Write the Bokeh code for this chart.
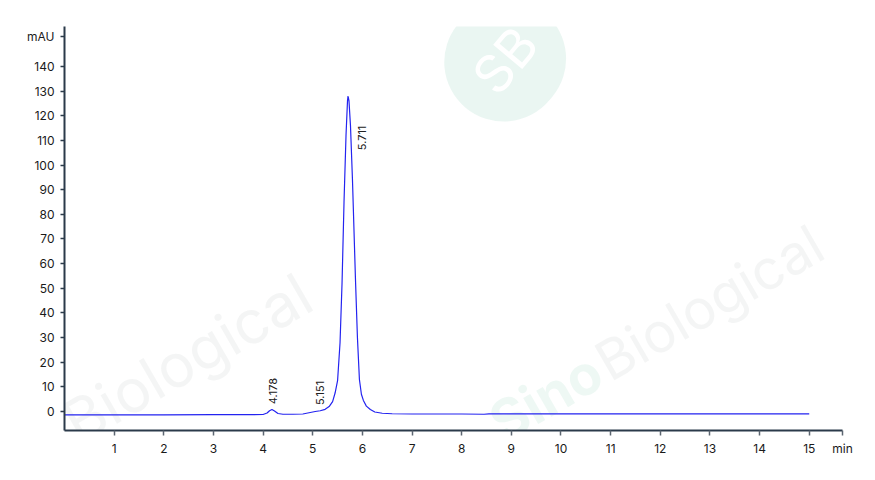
from bokeh.plotting import figure
from bokeh.models import Range1d, FixedTicker, Label
from bokeh.embed import file_html
from bokeh.resources import INLINE
import math

# ---- data ----
time_min = [0, 1, 2, 3, 3.8, 4.0, 4.08, 4.13, 4.178, 4.23, 4.3, 4.4, 4.6, 4.8,
            4.95, 5.05, 5.151, 5.25, 5.33, 5.40, 5.45, 5.50, 5.55, 5.59, 5.63,
            5.67, 5.70, 5.711, 5.73, 5.76, 5.80, 5.86, 5.90, 5.94, 5.98, 6.02,
            6.08, 6.16, 6.25, 6.4, 6.6, 7, 8, 8.45, 8.55, 9, 10, 12, 14, 15]
mau = [-1.35, -1.35, -1.35, -1.3, -1.3, -1.2, -0.6, 0.3, 0.8, 0.2, -0.8, -1.1,
       -1.1, -1.0, -0.4, 0.0, 0.3, 0.9, 2.0, 4.0, 7.5, 12.5, 28, 52, 85,
       112, 126, 128, 126, 116, 94, 54, 30, 13, 7, 4.5,
       2.2, 0.8, -0.2, -0.7, -0.9, -1.0, -1.0, -1.1, -0.95, -0.95, -0.95, -0.95, -0.95, -0.95]

peak_times = [4.178, 5.151, 5.711]
peak_labels = ["4.178", "5.151", "5.711"]

x_ticks = [1, 2, 3, 4, 5, 6, 7, 8, 9, 10, 11, 12, 13, 14, 15]
y_ticks = [0, 10, 20, 30, 40, 50, 60, 70, 80, 90, 100, 110, 120, 130, 140]
x_unit = "min"
y_unit = "mAU"

FONT = "Inter"
X_END = 15.67
Y_UNIT_POS = 152.2
X0, X1 = 0, X_END
Y0, Y1 = -7.7, 156.2

p = figure(width=867, height=472, output_backend="svg", toolbar_location=None,
           x_range=Range1d(X0, X1), y_range=Range1d(Y0, Y1),
           min_border_left=64, min_border_right=25, min_border_top=26,
           min_border_bottom=42)
p.background_fill_color = "white"
p.border_fill_color = "white"
p.outline_line_color = None
p.xgrid.visible = False
p.ygrid.visible = False

# ---- watermarks (picture px -> data coords), kept inside the plot area ----
def dx(px):
    return (px - 64.4) / 49.64

def dy(py):
    return (411 - py) / 2.464

ang = math.radians(30)
wm_green = "#3fae8a"
wm_grey = "#9aa0a0"
p.add_layout(Label(x=dx(68), y=dy(426), text="Biological", angle=ang,
                   text_font=FONT, text_font_size="60px",
                   text_color=wm_grey, text_alpha=0.11,
                   text_align="left", text_baseline="alphabetic", level="underlay"))
p.add_layout(Label(x=dx(494), y=dy(426), text="Sino", angle=ang,
                   text_font=FONT, text_font_size="55px", text_font_style="bold",
                   text_color=wm_green, text_alpha=0.09,
                   text_align="left", text_baseline="alphabetic", level="underlay"))
p.add_layout(Label(x=dx(600), y=dy(365), text="Biological", angle=ang,
                   text_font=FONT, text_font_size="55px",
                   text_color=wm_grey, text_alpha=0.11,
                   text_align="left", text_baseline="alphabetic", level="underlay"))
p.add_layout(Label(x=dx(505), y=dy(60), text="SB", angle=math.radians(50),
                   text_font=FONT, text_font_size="52px", text_color="white",
                   text_align="center", text_baseline="middle",
                   background_fill_color=wm_green, background_fill_alpha=0.11,
                   border_radius=60, padding=28, level="underlay"))

# ---- trace ----
p.line(time_min, mau, line_color="#2323f0", line_width=1.2)

# ---- peak labels ----
label_x = [peak_times[0] + 0.03, peak_times[1], peak_times[2] + 0.28]
label_y = [3.0, 2.6, 106]
p.text(x=label_x, y=label_y, text=peak_labels, angle=math.pi / 2,
       text_font_size="11px", text_color="#222222", text_align="left",
       text_baseline="middle", text_font={"value": FONT})

# ---- axes ----
axis_col = "#2b3a4a"
xa = p.xaxis[0]
xa.ticker = FixedTicker(ticks=x_ticks + [X_END])
xa.major_label_overrides = {X_END: x_unit}
xa.axis_line_color = axis_col
xa.axis_line_width = 2
xa.major_tick_line_color = "#5b6570"
xa.major_tick_line_width = 1.5
xa.major_tick_in = 0
xa.major_tick_out = 5
xa.minor_tick_line_color = None
xa.major_label_text_font = FONT
xa.major_label_text_font_size = "12px"
xa.major_label_text_color = "#1a1a1a"
xa.major_label_standoff = 5

ya = p.yaxis[0]
ya.ticker = FixedTicker(ticks=y_ticks + [Y_UNIT_POS])
ya.major_label_overrides = {Y_UNIT_POS: y_unit}
ya.axis_line_color = axis_col
ya.axis_line_width = 2
ya.major_tick_line_color = axis_col
ya.major_tick_line_width = 1.5
ya.major_tick_in = 0
ya.major_tick_out = 4
ya.minor_tick_line_color = None
ya.major_label_text_font = FONT
ya.major_label_text_font_size = "12px"
ya.major_label_text_color = "#1a1a1a"
ya.major_label_standoff = 6

open("out.html", "w").write(file_html(p, INLINE))
